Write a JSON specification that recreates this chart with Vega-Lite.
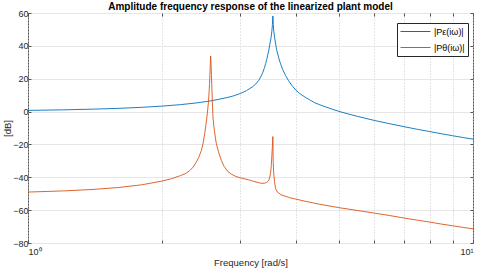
{
  "$schema": "https://vega.github.io/schema/vega-lite/v6.json",
  "autosize": {"type": "none"},
  "width": 445,
  "height": 230,
  "padding": {"left": 28, "top": 13, "right": 10, "bottom": 30},
  "background": "white",
  "config": {
    "font": "Liberation Sans",
    "view": {"stroke": "#555555", "strokeWidth": 1},
    "axis": {"labelColor": "#262626", "titleColor": "#262626", "labelFontSize": 9, "titleFontSize": 9.5, "titleFontWeight": "normal", "tickColor": "#555555", "domain": false}
  },
  "title": {"text": "Amplitude frequency response of the linearized plant model", "fontSize": 10, "fontWeight": "bold", "color": "#000000", "anchor": "middle", "baseline": "alphabetic", "offset": 0, "dy": 10.5},
  "datasets": {
    "resp": [
      {"w": 1.0, "db": 0.7, "s": "|Pε(iω)|"},
      {"w": 1.2, "db": 1.05, "s": "|Pε(iω)|"},
      {"w": 1.4, "db": 1.47, "s": "|Pε(iω)|"},
      {"w": 1.6, "db": 1.97, "s": "|Pε(iω)|"},
      {"w": 1.8, "db": 2.58, "s": "|Pε(iω)|"},
      {"w": 2.0, "db": 3.32, "s": "|Pε(iω)|"},
      {"w": 2.2, "db": 4.21, "s": "|Pε(iω)|"},
      {"w": 2.4, "db": 5.31, "s": "|Pε(iω)|"},
      {"w": 2.6, "db": 6.7, "s": "|Pε(iω)|"},
      {"w": 2.8, "db": 8.5, "s": "|Pε(iω)|"},
      {"w": 2.9, "db": 9.6, "s": "|Pε(iω)|"},
      {"w": 3.0, "db": 11.0, "s": "|Pε(iω)|"},
      {"w": 3.1, "db": 12.8, "s": "|Pε(iω)|"},
      {"w": 3.2, "db": 15.2, "s": "|Pε(iω)|"},
      {"w": 3.25, "db": 16.8, "s": "|Pε(iω)|"},
      {"w": 3.3, "db": 19.0, "s": "|Pε(iω)|"},
      {"w": 3.34, "db": 21.5, "s": "|Pε(iω)|"},
      {"w": 3.372, "db": 24.0, "s": "|Pε(iω)|"},
      {"w": 3.4, "db": 26.8, "s": "|Pε(iω)|"},
      {"w": 3.42, "db": 29.2, "s": "|Pε(iω)|"},
      {"w": 3.44, "db": 31.8, "s": "|Pε(iω)|"},
      {"w": 3.46, "db": 34.8, "s": "|Pε(iω)|"},
      {"w": 3.48, "db": 38.0, "s": "|Pε(iω)|"},
      {"w": 3.495, "db": 41.0, "s": "|Pε(iω)|"},
      {"w": 3.51, "db": 43.5, "s": "|Pε(iω)|"},
      {"w": 3.521, "db": 46.0, "s": "|Pε(iω)|"},
      {"w": 3.532, "db": 49.0, "s": "|Pε(iω)|"},
      {"w": 3.542, "db": 53.0, "s": "|Pε(iω)|"},
      {"w": 3.55, "db": 58.2, "s": "|Pε(iω)|"},
      {"w": 3.558, "db": 53.0, "s": "|Pε(iω)|"},
      {"w": 3.567, "db": 49.0, "s": "|Pε(iω)|"},
      {"w": 3.578, "db": 46.0, "s": "|Pε(iω)|"},
      {"w": 3.59, "db": 43.5, "s": "|Pε(iω)|"},
      {"w": 3.605, "db": 40.5, "s": "|Pε(iω)|"},
      {"w": 3.622, "db": 37.5, "s": "|Pε(iω)|"},
      {"w": 3.642, "db": 35.0, "s": "|Pε(iω)|"},
      {"w": 3.665, "db": 32.0, "s": "|Pε(iω)|"},
      {"w": 3.69, "db": 29.5, "s": "|Pε(iω)|"},
      {"w": 3.737, "db": 25.5, "s": "|Pε(iω)|"},
      {"w": 3.79, "db": 22.0, "s": "|Pε(iω)|"},
      {"w": 3.85, "db": 18.8, "s": "|Pε(iω)|"},
      {"w": 3.92, "db": 15.8, "s": "|Pε(iω)|"},
      {"w": 4.0, "db": 13.0, "s": "|Pε(iω)|"},
      {"w": 4.08, "db": 11.0, "s": "|Pε(iω)|"},
      {"w": 4.15, "db": 9.6, "s": "|Pε(iω)|"},
      {"w": 4.22, "db": 8.3, "s": "|Pε(iω)|"},
      {"w": 4.293, "db": 7.2, "s": "|Pε(iω)|"},
      {"w": 4.4, "db": 5.5, "s": "|Pε(iω)|"},
      {"w": 4.5, "db": 4.4, "s": "|Pε(iω)|"},
      {"w": 4.6, "db": 3.4, "s": "|Pε(iω)|"},
      {"w": 4.8, "db": 1.7, "s": "|Pε(iω)|"},
      {"w": 5.0, "db": 0.1, "s": "|Pε(iω)|"},
      {"w": 5.25, "db": -1.5, "s": "|Pε(iω)|"},
      {"w": 5.5, "db": -2.9, "s": "|Pε(iω)|"},
      {"w": 6.0, "db": -5.4, "s": "|Pε(iω)|"},
      {"w": 6.5, "db": -7.4, "s": "|Pε(iω)|"},
      {"w": 7.0, "db": -9.2, "s": "|Pε(iω)|"},
      {"w": 7.5, "db": -10.8, "s": "|Pε(iω)|"},
      {"w": 8.0, "db": -12.2, "s": "|Pε(iω)|"},
      {"w": 8.5, "db": -13.5, "s": "|Pε(iω)|"},
      {"w": 9.0, "db": -14.7, "s": "|Pε(iω)|"},
      {"w": 9.5, "db": -15.8, "s": "|Pε(iω)|"},
      {"w": 10.0, "db": -16.8, "s": "|Pε(iω)|"},
      {"w": 1.0, "db": -49.0, "s": "|Pθ(iω)|"},
      {"w": 1.2, "db": -48.3, "s": "|Pθ(iω)|"},
      {"w": 1.4, "db": -47.4, "s": "|Pθ(iω)|"},
      {"w": 1.6, "db": -46.2, "s": "|Pθ(iω)|"},
      {"w": 1.8, "db": -44.6, "s": "|Pθ(iω)|"},
      {"w": 2.0, "db": -42.3, "s": "|Pθ(iω)|"},
      {"w": 2.1, "db": -40.9, "s": "|Pθ(iω)|"},
      {"w": 2.2, "db": -39.0, "s": "|Pθ(iω)|"},
      {"w": 2.26, "db": -37.7, "s": "|Pθ(iω)|"},
      {"w": 2.308, "db": -36.0, "s": "|Pθ(iω)|"},
      {"w": 2.35, "db": -33.8, "s": "|Pθ(iω)|"},
      {"w": 2.389, "db": -30.8, "s": "|Pθ(iω)|"},
      {"w": 2.42, "db": -27.8, "s": "|Pθ(iω)|"},
      {"w": 2.453, "db": -23.6, "s": "|Pθ(iω)|"},
      {"w": 2.475, "db": -19.0, "s": "|Pθ(iω)|"},
      {"w": 2.495, "db": -13.4, "s": "|Pθ(iω)|"},
      {"w": 2.51, "db": -8.5, "s": "|Pθ(iω)|"},
      {"w": 2.524, "db": -3.2, "s": "|Pθ(iω)|"},
      {"w": 2.536, "db": 2.0, "s": "|Pθ(iω)|"},
      {"w": 2.546, "db": 7.0, "s": "|Pθ(iω)|"},
      {"w": 2.553, "db": 12.5, "s": "|Pθ(iω)|"},
      {"w": 2.559, "db": 17.2, "s": "|Pθ(iω)|"},
      {"w": 2.567, "db": 27.3, "s": "|Pθ(iω)|"},
      {"w": 2.573, "db": 33.8, "s": "|Pθ(iω)|"},
      {"w": 2.58, "db": 27.3, "s": "|Pθ(iω)|"},
      {"w": 2.584, "db": 22.0, "s": "|Pθ(iω)|"},
      {"w": 2.587, "db": 17.2, "s": "|Pθ(iω)|"},
      {"w": 2.595, "db": 7.0, "s": "|Pθ(iω)|"},
      {"w": 2.604, "db": -3.2, "s": "|Pθ(iω)|"},
      {"w": 2.615, "db": -8.5, "s": "|Pθ(iω)|"},
      {"w": 2.625, "db": -12.0, "s": "|Pθ(iω)|"},
      {"w": 2.637, "db": -16.0, "s": "|Pθ(iω)|"},
      {"w": 2.65, "db": -19.5, "s": "|Pθ(iω)|"},
      {"w": 2.68, "db": -24.5, "s": "|Pθ(iω)|"},
      {"w": 2.719, "db": -29.7, "s": "|Pθ(iω)|"},
      {"w": 2.76, "db": -33.5, "s": "|Pθ(iω)|"},
      {"w": 2.813, "db": -36.5, "s": "|Pθ(iω)|"},
      {"w": 2.87, "db": -38.2, "s": "|Pθ(iω)|"},
      {"w": 2.93, "db": -39.5, "s": "|Pθ(iω)|"},
      {"w": 3.0, "db": -40.3, "s": "|Pθ(iω)|"},
      {"w": 3.06, "db": -40.9, "s": "|Pθ(iω)|"},
      {"w": 3.13, "db": -41.5, "s": "|Pθ(iω)|"},
      {"w": 3.21, "db": -42.4, "s": "|Pθ(iω)|"},
      {"w": 3.29, "db": -43.2, "s": "|Pθ(iω)|"},
      {"w": 3.35, "db": -43.7, "s": "|Pθ(iω)|"},
      {"w": 3.4, "db": -43.6, "s": "|Pθ(iω)|"},
      {"w": 3.44, "db": -43.1, "s": "|Pθ(iω)|"},
      {"w": 3.47, "db": -42.2, "s": "|Pθ(iω)|"},
      {"w": 3.491, "db": -40.5, "s": "|Pθ(iω)|"},
      {"w": 3.51, "db": -37.0, "s": "|Pθ(iω)|"},
      {"w": 3.521, "db": -33.0, "s": "|Pθ(iω)|"},
      {"w": 3.532, "db": -27.0, "s": "|Pθ(iω)|"},
      {"w": 3.542, "db": -21.0, "s": "|Pθ(iω)|"},
      {"w": 3.55, "db": -15.2, "s": "|Pθ(iω)|"},
      {"w": 3.553, "db": -22.0, "s": "|Pθ(iω)|"},
      {"w": 3.557, "db": -31.0, "s": "|Pθ(iω)|"},
      {"w": 3.565, "db": -37.0, "s": "|Pθ(iω)|"},
      {"w": 3.58, "db": -42.5, "s": "|Pθ(iω)|"},
      {"w": 3.6, "db": -46.8, "s": "|Pθ(iω)|"},
      {"w": 3.63, "db": -48.8, "s": "|Pθ(iω)|"},
      {"w": 3.7, "db": -50.6, "s": "|Pθ(iω)|"},
      {"w": 3.87, "db": -52.4, "s": "|Pθ(iω)|"},
      {"w": 4.2, "db": -54.6, "s": "|Pθ(iω)|"},
      {"w": 4.5, "db": -56.3, "s": "|Pθ(iω)|"},
      {"w": 5.0, "db": -58.5, "s": "|Pθ(iω)|"},
      {"w": 5.5, "db": -60.2, "s": "|Pθ(iω)|"},
      {"w": 6.0, "db": -61.8, "s": "|Pθ(iω)|"},
      {"w": 6.5, "db": -63.3, "s": "|Pθ(iω)|"},
      {"w": 7.0, "db": -64.8, "s": "|Pθ(iω)|"},
      {"w": 7.5, "db": -66.1, "s": "|Pθ(iω)|"},
      {"w": 8.0, "db": -67.3, "s": "|Pθ(iω)|"},
      {"w": 8.5, "db": -68.5, "s": "|Pθ(iω)|"},
      {"w": 9.0, "db": -69.5, "s": "|Pθ(iω)|"},
      {"w": 9.5, "db": -70.5, "s": "|Pθ(iω)|"},
      {"w": 10.0, "db": -71.4, "s": "|Pθ(iω)|"}
    ]
  },
  "data": {"name": "resp"},
  "layer": [
    {
      "mark": {"type": "line", "strokeWidth": 0.9, "clip": true},
      "encoding": {
        "x": {"field": "w", "type": "quantitative", "scale": {"type": "log", "domain": [1, 10], "nice": false},
          "axis": {"title": "Frequency [rad/s]", "values": [1, 2, 3, 4, 5, 6, 7, 8, 9, 10],
            "labelExpr": "datum.value == 1 ? '10⁰' : (datum.value == 10 ? '10¹' : '')",
            "labelOverlap": false, "labelPadding": 7, "tickSize": -3, "titlePadding": 1,
            "grid": true, "gridDash": [1, 2], "gridColor": "#c8c8c8", "gridWidth": 1}},
        "y": {"field": "db", "type": "quantitative", "scale": {"domain": [-80, 60], "nice": false},
          "axis": {"title": "[dB]", "values": [-80, -60, -40, -20, 0, 20, 40, 60], "labelPadding": 3, "tickSize": -3,
            "titleX": -21, "titleY": 115, "titleBaseline": "middle", "titleAngle": -90,
            "grid": true, "gridColor": "#e6e6e6", "gridWidth": 1}},
        "color": {"field": "s", "type": "nominal", "scale": {"domain": ["|Pε(iω)|", "|Pθ(iω)|"], "range": ["#0072BD", "#D95319"]},
          "legend": {"title": null, "orient": "none", "legendX": 369, "legendY": 10, "fillColor": "white", "strokeColor": "#262626",
            "padding": 3, "symbolType": "M-3,0H3", "symbolSize": 100, "symbolOffset": 10, "symbolStrokeWidth": 1, "labelFontSize": 9, "labelColor": "#000000", "labelOffset": 13, "rowPadding": 5}}
      }
    },
    {
      "mark": {"type": "line", "strokeOpacity": 0},
      "encoding": {
        "x": {"field": "w", "type": "quantitative", "scale": {"type": "log", "domain": [1, 10], "nice": false},
          "axis": {"orient": "top", "title": null, "values": [1, 2, 3, 4, 5, 6, 7, 8, 9, 10], "labels": false, "tickSize": -3, "grid": false}},
        "y": {"field": "db", "type": "quantitative", "scale": {"domain": [-80, 60], "nice": false},
          "axis": {"orient": "right", "title": null, "values": [-80, -60, -40, -20, 0, 20, 40, 60], "labels": false, "tickSize": -3, "grid": false}}
      }
    }
  ],
  "resolve": {"scale": {"x": "independent", "y": "independent"}}
}
